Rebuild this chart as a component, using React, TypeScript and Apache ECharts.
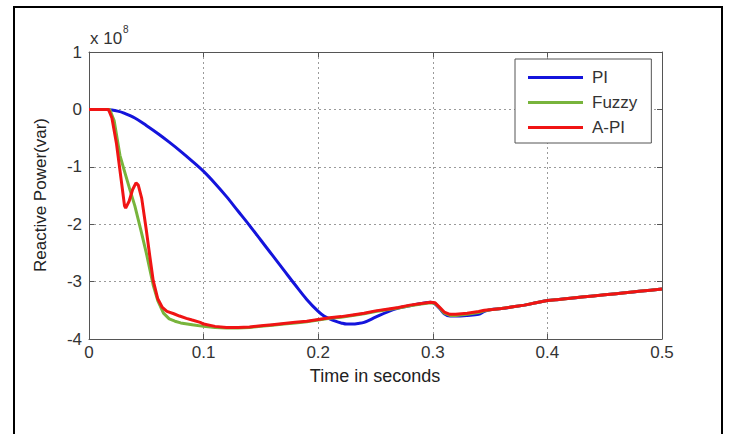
import React, { useEffect, useRef } from "react";
import * as echarts from "echarts";

// ---------- data (values in units of 1e8 var) ----------
const xTicks = [0, 0.1, 0.2, 0.3, 0.4, 0.5];
const yTicks = [-4, -3, -2, -1, 0, 1];

const seriesNames = ["PI", "Fuzzy", "A-PI"];

// shared late portion (all three controllers coincide)
const tailTime = [0.35, 0.36, 0.37, 0.38, 0.39, 0.4, 0.41, 0.42, 0.43, 0.44, 0.45, 0.46, 0.47, 0.48, 0.49, 0.5];
const tailValue = [-3.49, -3.47, -3.44, -3.41, -3.37, -3.33, -3.31, -3.29, -3.27, -3.25, -3.23, -3.21, -3.19, -3.17, -3.15, -3.13];

const piTime = [0, 0.015, 0.02, 0.025, 0.03, 0.04, 0.05, 0.06, 0.07, 0.08, 0.09, 0.1, 0.11, 0.12, 0.13, 0.14, 0.15, 0.16, 0.17, 0.18, 0.19, 0.2, 0.205, 0.21, 0.215, 0.22, 0.225, 0.23, 0.235, 0.24, 0.25, 0.26, 0.27, 0.28, 0.29, 0.298, 0.302, 0.306, 0.31, 0.315, 0.32, 0.33, 0.34, 0.345];
const piValue = [0, 0, -0.01, -0.03, -0.06, -0.15, -0.28, -0.42, -0.57, -0.73, -0.9, -1.08, -1.29, -1.52, -1.77, -2.02, -2.28, -2.54, -2.8, -3.06, -3.31, -3.52, -3.6, -3.65, -3.69, -3.72, -3.74, -3.74, -3.73, -3.71, -3.62, -3.53, -3.46, -3.42, -3.38, -3.36, -3.39, -3.47, -3.56, -3.6, -3.6, -3.59, -3.57, -3.52];

const fuzzyTime = [0, 0.018, 0.022, 0.027, 0.031, 0.036, 0.04, 0.045, 0.05, 0.053, 0.056, 0.06, 0.065, 0.07, 0.075, 0.08, 0.09, 0.1, 0.11, 0.12, 0.13, 0.14, 0.15, 0.16, 0.17, 0.18, 0.19, 0.2, 0.21, 0.22, 0.23, 0.24, 0.25, 0.26, 0.27, 0.28, 0.29, 0.298, 0.302, 0.306, 0.31, 0.315, 0.32, 0.33, 0.34, 0.345];
const fuzzyValue = [0, 0, -0.2, -0.8, -1.08, -1.42, -1.68, -2.08, -2.5, -2.78, -3.06, -3.33, -3.55, -3.65, -3.69, -3.72, -3.75, -3.78, -3.8, -3.81, -3.81, -3.8, -3.78, -3.76, -3.74, -3.72, -3.7, -3.67, -3.64, -3.62, -3.59, -3.56, -3.52, -3.49, -3.46, -3.42, -3.39, -3.37, -3.38, -3.46, -3.55, -3.59, -3.59, -3.57, -3.54, -3.51];

const apiTime = [0, 0.017, 0.02, 0.024, 0.0285, 0.031, 0.032, 0.035, 0.038, 0.041, 0.043, 0.046, 0.05, 0.053, 0.056, 0.06, 0.064, 0.068, 0.074, 0.079, 0.085, 0.09, 0.097, 0.1, 0.11, 0.12, 0.13, 0.14, 0.15, 0.16, 0.17, 0.18, 0.19, 0.2, 0.21, 0.22, 0.23, 0.24, 0.25, 0.26, 0.27, 0.28, 0.29, 0.298, 0.302, 0.306, 0.31, 0.315, 0.32, 0.33, 0.34, 0.345];
const apiValue = [0, 0, -0.15, -0.6, -1.29, -1.68, -1.72, -1.6, -1.4, -1.28, -1.32, -1.55, -2.1, -2.55, -2.98, -3.3, -3.45, -3.52, -3.56, -3.6, -3.64, -3.67, -3.71, -3.74, -3.78, -3.8, -3.8, -3.79, -3.77, -3.75, -3.73, -3.71, -3.69, -3.66, -3.63, -3.61, -3.58, -3.55, -3.51, -3.48, -3.45, -3.41, -3.38, -3.36, -3.37, -3.45, -3.53, -3.57, -3.57, -3.55, -3.52, -3.5];

const colors = ["#1414dc", "#78b43c", "#f01414"];
const smoothing = [0.35, 0, 0];

const FONT = "'Liberation Sans', Arial, sans-serif";

// legend icon: a 3px-thick bar inside a 55x14 box (zero-area anchors keep the box size)
const LEGEND_ICON = "path://M0,0L1,0L0,0Z M0,5.5L55,5.5L55,8.5L0,8.5Z M0,14L1,14L0,14Z M55,0L55,1L55,0Z";

function pairs(t: number[], v: number[]) {
  const a = t.map((x, i) => [x, v[i]]);
  const b = tailTime.map((x, i) => [x, tailValue[i]]);
  return a.concat(b);
}

export default function App() {
  const ref = useRef<HTMLDivElement>(null);
  useEffect(() => {
    if (!ref.current) return;
    const chart = echarts.init(ref.current, null, { renderer: "svg" });
    const axisColor = "#555";
    const labelStyle = { fontSize: 17, color: "#333", fontFamily: FONT };
    const option: any = {
      animation: false,
      backgroundColor: "#fff",
      grid: { left: 89, top: 52, right: 69, bottom: 95 },
      legend: {
        orient: "vertical",
        left: 515,
        top: 59,
        itemWidth: 55,
        itemHeight: 14,
        itemGap: 8,
        padding: [10, 14, 7, 13],
        backgroundColor: "#fff",
        borderColor: "#555",
        borderWidth: 1,
        icon: LEGEND_ICON,
        data: seriesNames,
        textStyle: { fontSize: 17, color: "#333", fontFamily: FONT, padding: [0, 0, 0, 4] },
      },
      xAxis: [
        {
          type: "value",
          min: 0,
          max: 0.5,
          interval: 0.1,
          position: "bottom",
          axisLine: { show: true, onZero: false, lineStyle: { color: axisColor, width: 1 } },
          axisTick: { show: true, inside: true, length: 5, lineStyle: { color: axisColor } },
          axisLabel: {
            ...labelStyle,
            margin: 5,
            formatter: (v: number) => {
              const m = xTicks.find((t) => Math.abs(t - v) < 1e-9);
              return m === 0 ? "0" : (m ?? v).toFixed(1);
            },
          },
          splitLine: { show: true, lineStyle: { type: [2, 3], color: "#9a9a9a", width: 1 } },
        },
        {
          type: "value",
          min: 0,
          max: 0.5,
          interval: 0.1,
          position: "top",
          axisLine: { show: true, onZero: false, lineStyle: { color: axisColor, width: 1 } },
          axisTick: { show: true, inside: true, length: 5, lineStyle: { color: axisColor } },
          axisLabel: { show: false },
          splitLine: { show: false },
        },
      ],
      yAxis: [
        {
          type: "value",
          min: yTicks[0],
          max: yTicks[yTicks.length - 1],
          interval: 1,
          position: "left",
          axisLine: { show: true, onZero: false, lineStyle: { color: axisColor, width: 1 } },
          axisTick: { show: true, inside: true, length: 5, lineStyle: { color: axisColor } },
          axisLabel: { ...labelStyle, margin: 7, formatter: (v: number) => String(Math.round(v)) },
          splitLine: { show: true, lineStyle: { type: [2, 3], color: "#9a9a9a", width: 1 } },
        },
        {
          type: "value",
          min: yTicks[0],
          max: yTicks[yTicks.length - 1],
          interval: 1,
          position: "right",
          axisLine: { show: true, onZero: false, lineStyle: { color: axisColor, width: 1 } },
          axisTick: { show: true, inside: true, length: 5, lineStyle: { color: axisColor } },
          axisLabel: { show: false },
          splitLine: { show: false },
        },
      ],
      series: [
        { name: seriesNames[0], data: pairs(piTime, piValue), z: 2 },
        { name: seriesNames[1], data: pairs(fuzzyTime, fuzzyValue), z: 3 },
        { name: seriesNames[2], data: pairs(apiTime, apiValue), z: 4 },
      ].map((s, i) => ({
        ...s,
        type: "line",
        xAxisIndex: 0,
        yAxisIndex: 0,
        symbol: "none",
        showSymbol: false,
        smooth: smoothing[i] || false,
        clip: true,
        color: colors[i],
        lineStyle: { width: 3, color: colors[i] },
        itemStyle: { color: colors[i] },
      })),
      graphic: [
        {
          type: "rect",
          shape: { x: 14, y: 7, width: 708, height: 440 },
          style: { fill: "none", stroke: "#000", lineWidth: 2 },
          silent: true,
          z: -10,
        },
        {
          type: "text",
          x: 90,
          y: 38,
          style: { text: "x 10", fontSize: 17, fontFamily: FONT, fill: "#333", align: "left", verticalAlign: "middle" },
        },
        {
          type: "text",
          x: 123,
          y: 29,
          style: { text: "8", fontSize: 10, fontFamily: FONT, fill: "#333", align: "left", verticalAlign: "middle" },
        },
        {
          type: "text",
          x: 40,
          y: 195,
          rotation: Math.PI / 2,
          style: { text: "Reactive Power(var)", fontSize: 17, fontFamily: FONT, fill: "#222", align: "center", verticalAlign: "middle" },
        },
        {
          type: "text",
          x: 375,
          y: 376,
          style: { text: "Time in seconds", fontSize: 18, fontFamily: FONT, fill: "#222", align: "center", verticalAlign: "middle" },
        },
      ],
    };
    chart.setOption(option);
    return () => chart.dispose();
  }, []);
  return (
    <div
      ref={ref}
      style={{ position: "fixed", left: 0, top: 0, width: 731, height: 434, background: "#fff" }}
    />
  );
}
